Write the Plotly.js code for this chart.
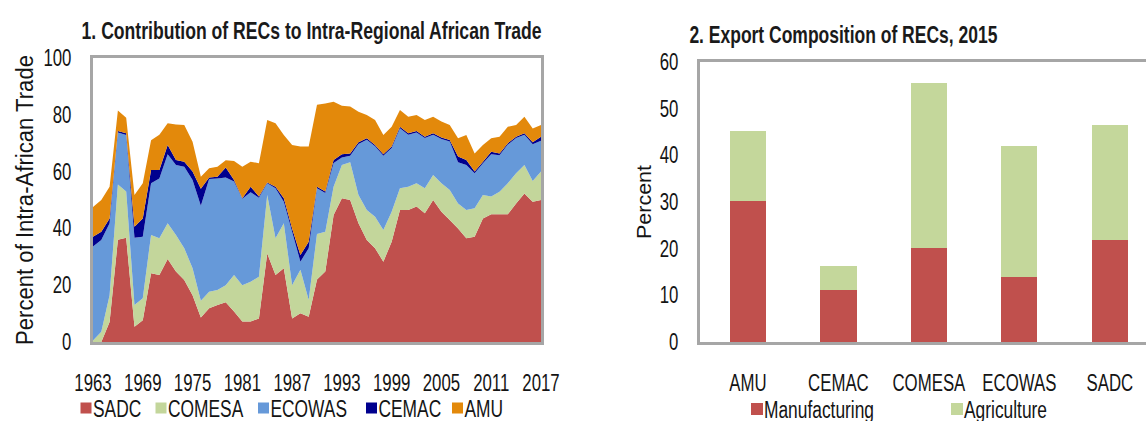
<!DOCTYPE html>
<html>
<head>
<meta charset="utf-8">
<script src="https://cdn.plot.ly/plotly-3.0.1.min.js"></script>
<style>
  html, body { margin: 0; padding: 0; background: #ffffff; overflow: hidden; }
  #chart { width: 1146px; height: 440px; }
</style>
</head>
<body>
<div id="chart"></div>
<script>
// ---- Panel 1 data: share of intra-African trade by REC (percent) ----
const years = [1963,1964,1965,1966,1967,1968,1969,1970,1971,1972,
               1973,1974,1975,1976,1977,1978,1979,1980,1981,1982,
               1983,1984,1985,1986,1987,1988,1989,1990,1991,1992,
               1993,1994,1995,1996,1997,1998,1999,2000,2001,2002,
               2003,2004,2005,2006,2007,2008,2009,2010,2011,2012,
               2013,2014,2015,2016,2017];
const sadc   = [0,0,7,36,36.7,5.4,7.7,24.2,23.6,29.2,
                24.8,21.8,16.5,8.6,11.9,13,14,10.7,7.2,7.2,
                8.3,31.2,23.6,26,8.3,10.1,8.9,22,24.8,44.7,
                50.6,50,41.8,35.9,33,28.3,35.3,46.5,46.5,47.7,
                45.3,50,45.9,43,40,36.5,37.1,43.5,45,45,
                45,48.8,52.3,49.4,50];
const comesa = [0.5,3.6,9.5,19.5,16.3,7.6,7.7,13.5,12.9,12.6,
                12.9,11.2,9.5,5.9,5.8,5.3,6.0,12.9,12.8,14.0,
                14.7,20.6,12.9,15.8,11.7,15.3,5.9,16.0,14.0,10.0,
                11.7,13.3,10.0,10.6,11.1,11.1,10.6,7.6,8.2,8.2,
                8.8,8.8,10.0,10.5,8.8,10.0,10.0,8.3,6.2,7.9,
                10.9,10.6,10.0,7.3,10.0];
const ecowas = [33.1,32.3,25.3,18.3,19.9,23.7,21.7,18.2,21.1,24.3,
                24.6,28.7,31.0,33.5,39.7,39.3,37.9,32.9,30.4,31.5,
                27.8,4.1,17.6,7.6,18.8,2.9,18.2,16.1,13.7,8.3,
                2.7,2.3,17.9,24.7,24.8,26.2,22.4,21.2,18.3,17.9,
                17.7,14.2,15.6,17.1,14.5,15.8,12.3,11.1,14.9,12.9,
                13.6,12.4,10.7,12.9,10.9];
const cemac  = [3.5,2.9,1.7,0.5,0.6,3.9,6.4,4.7,3.0,3.3,
                1.8,1.8,3.0,6.0,0.5,0.6,3.5,0.5,0.2,2.0,
                0.4,0.3,0.6,1.2,1.2,2.3,2.3,0.6,0.5,1.1,
                1.1,0.8,0.6,0.5,0.5,0.5,0.5,0.5,0.5,0.5,
                0.5,0.5,0.5,0.5,2.0,1.8,0.6,0.6,0.9,0.6,
                0.5,0.5,0.5,0.7,1.4];
const amu    = [10.4,11.2,11.2,7.2,5.5,11.2,12.4,10.4,12.4,7.6,
                12.5,12.9,10.5,4.2,3.3,3.5,2.6,6.7,11.1,8.8,
                11.7,22.0,22.3,22.3,29.4,38.2,33.5,28.8,31.0,20.5,
                17.1,16.5,10.8,8.2,8.8,6.8,7.0,5.9,5.8,5.6,
                5.9,5.8,5.6,5.3,6.4,8.8,6.4,5.9,4.7,5.9,
                5.8,4.1,5.8,4.9,4.1];
const yearTicks = [1963,1969,1975,1981,1987,1993,1999,2005,2011,2017];
const areaNames = ['SADC','COMESA','ECOWAS','CEMAC','AMU'];

// ---- Panel 2 data: export composition of RECs, 2015 (percent) ----
const recs = ['AMU','CEMAC','COMESA','ECOWAS','SADC'];
const manufacturing = [30.3, 11.2, 20.1, 13.9, 21.8];
const agriculture   = [15.0, 5.1, 35.4, 28.2, 24.7];

// ---- styling ----
const FONT = "'Liberation Sans', Arial, sans-serif";
const TXT = '#141414';
const colors = {SADC:'#C0504D', COMESA:'#C3D69B', ECOWAS:'#6699D9', CEMAC:'#00008E', AMU:'#E3890B'};
const AXIS_GRAY = '#A6A6A6';
// figure is a little taller than the 421px window so the bottom legends are not clipped;
// all positions below are measured in px from the top-left corner
const W = 1146, H = 440;
const px = v => v / W;
const py = v => 1 - v / H;

const areaSeries = [sadc, comesa, ecowas, cemac, amu];
const traces = [];
areaSeries.forEach((vals, i) => {
  const name = areaNames[i];
  traces.push({
    type: 'scatter', x: years, y: vals, name: name,
    stackgroup: 'recs', mode: 'none', fillcolor: colors[name],
    xaxis: 'x', yaxis: 'y', showlegend: false, legendgroup: name,
    hovertemplate: name + ' %{x}: %{y:.1f}%<extra></extra>'
  });
});
// legend entries (square swatches) for the stacked-area series
const legTextX = [93, 168, 270.5, 378.5, 464.5];
areaNames.forEach((name, i) => {
  traces.push({
    type: 'scatter', x: [null], y: [null], name: name, mode: 'markers',
    marker: {symbol: 'square', size: 11, color: colors[name]},
    xaxis: 'x', yaxis: 'y', legendgroup: name,
    legend: i === 0 ? 'legend' : 'legend' + (i + 1), showlegend: true
  });
});
traces.push({
  type: 'bar', x: recs, y: manufacturing, name: 'Manufacturing',
  marker: {color: '#C0504D'}, width: 0.4, xaxis: 'x2', yaxis: 'y2',
  legend: 'legend6'
});
traces.push({
  type: 'bar', x: recs, y: agriculture, name: 'Agriculture',
  marker: {color: '#C4D79B'}, width: 0.4, xaxis: 'x2', yaxis: 'y2',
  legend: 'legend7'
});

const tickFont = {family: FONT, size: 23, color: TXT};
const legendBase = (xText, yc) => ({
  x: px(xText - 40), y: py(yc), xanchor: 'left', yanchor: 'middle',
  orientation: 'h', bgcolor: 'rgba(0,0,0,0)', borderwidth: 0,
  font: {family: FONT, size: 23, color: TXT}, itemclick: false, itemdoubleclick: false
});

const layout = {
  width: W, height: H,
  margin: {l: 0, r: 0, t: 0, b: 0, autoexpand: false},
  paper_bgcolor: '#ffffff', plot_bgcolor: '#ffffff',
  font: {family: FONT, size: 23, color: TXT},
  barmode: 'stack',
  showlegend: true,
  xaxis: {
    domain: [px(93), px(541)], anchor: 'y', range: [1963, 2017],
    tickvals: yearTicks, ticktext: yearTicks.map(String), tickfont: tickFont, tickangle: 0,
    showgrid: false, zeroline: false, showline: true, mirror: true, automargin: false,
    linecolor: AXIS_GRAY, linewidth: 3, ticks: '', ticklabelstandoff: 18
  },
  yaxis: {
    domain: [py(342), py(58)], anchor: 'x', range: [0, 100], dtick: 20,
    tickfont: tickFont, showgrid: false, zeroline: false, showline: true, mirror: true, automargin: false,
    linecolor: AXIS_GRAY, linewidth: 3, ticks: '', ticklabelstandoff: 14,
    title: {text: 'Percent of Intra-African Trade', font: {family: FONT, size: 23, color: TXT}, standoff: 2}
  },
  xaxis2: {
    domain: [px(700), 1], anchor: 'y2', type: 'category', range: [-0.53, 4.4], tickangle: 0,
    tickfont: tickFont, showgrid: false, zeroline: false, showline: true, mirror: true, automargin: false,
    linecolor: AXIS_GRAY, linewidth: 3, ticks: '', ticklabelstandoff: 18
  },
  yaxis2: {
    domain: [py(342), py(62)], anchor: 'x2', range: [0, 60], dtick: 10,
    tickfont: tickFont, showgrid: false, zeroline: false, showline: true, mirror: false, automargin: false,
    linecolor: AXIS_GRAY, linewidth: 3, ticks: '', ticklabelstandoff: 14,
    title: {text: 'Percent', font: {family: FONT, size: 21, color: TXT}, standoff: 4}
  },
  legend:  legendBase(legTextX[0], 408),
  legend2: legendBase(legTextX[1], 408),
  legend3: legendBase(legTextX[2], 408),
  legend4: legendBase(legTextX[3], 408),
  legend5: legendBase(legTextX[4], 408),
  legend6: legendBase(764, 409),
  legend7: legendBase(964, 409),
  annotations: [
    {text: '<b>1. Contribution of RECs to Intra-Regional African Trade</b>',
     xref: 'paper', yref: 'paper', x: px(311), y: py(31), xanchor: 'center', yanchor: 'middle',
     showarrow: false, font: {family: FONT, size: 24, color: '#1a1a1a'}},
    {text: '<b>2. Export Composition of RECs, 2015</b>',
     xref: 'paper', yref: 'paper', x: px(843), y: py(34), xanchor: 'center', yanchor: 'middle',
     showarrow: false, font: {family: FONT, size: 24, color: '#1a1a1a'}}
  ]
};

// ---- the original uses a condensed (Arial Narrow style) face: narrow the real text glyphs ----
function condense(el, factor, target) {
  el.removeAttribute('textLength');
  const len = el.getComputedTextLength();
  if (!len) return;
  el.setAttribute('textLength', (target || len * factor).toFixed(1));
  el.setAttribute('lengthAdjust', 'spacingAndGlyphs');
}
// add an extra transform on top of whatever Plotly set, idempotently
function extraTransform(el, pre, post) {
  if (!el) return;
  const cur = el.getAttribute('transform') || '';
  const mine = el.getAttribute('data-mine');
  let base = el.getAttribute('data-base') || '';
  if (cur !== mine) { base = cur; el.setAttribute('data-base', base); }
  const next = (pre + ' ' + base + ' ' + post).trim();
  el.setAttribute('transform', next);
  el.setAttribute('data-mine', next);
}

function styleTexts(gd) {
  gd.querySelectorAll('.xtick text, .ytick text, .x2tick text, .y2tick text')
    .forEach(t => condense(t, 0.73));
  // legend labels (every legend: legend, legend2, ... -> direct text child of g.traces)
  gd.querySelectorAll('g.traces > text').forEach(t => condense(t, 0.755));
  const yt = gd.querySelector('text.ytitle');
  if (yt) { condense(yt, 0, 290); extraTransform(yt, 'translate(9,0)', ''); }
  const y2t = gd.querySelector('text.y2title');
  if (y2t) { condense(y2t, 0, 74); extraTransform(y2t, 'translate(8,0)', ''); }
  const ann = gd.querySelectorAll('text.annotation-text');
  if (ann[0]) condense(ann[0], 0, 460);
  if (ann[1]) condense(ann[1], 0, 308);
  // pull the square swatches close to their labels, as in the original legend
  gd.querySelectorAll('g.traces g.legendsymbols').forEach(g => extraTransform(g, '', 'translate(13,0)'));
}

const gdiv = document.getElementById('chart');
const obsOpts = {childList: true, subtree: true, attributes: true, characterData: true};
let observer = null;
function run() {
  if (observer) observer.disconnect();
  styleTexts(gdiv);
  if (observer) observer.observe(gdiv, obsOpts);
}
observer = new MutationObserver(run);
observer.observe(gdiv, obsOpts);
Plotly.newPlot(gdiv, traces, layout, {displayModeBar: false, staticPlot: true}).then(gd => {
  run();
  gd.on('plotly_afterplot', run);
});
</script>
</body>
</html>
